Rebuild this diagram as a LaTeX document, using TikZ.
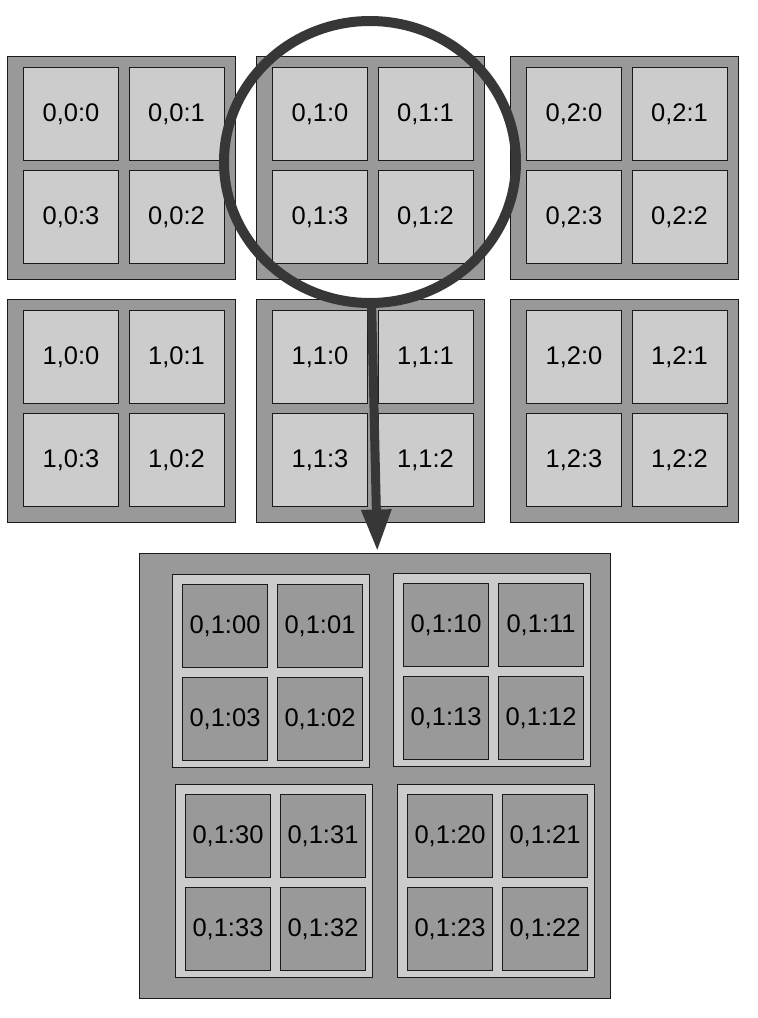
\documentclass[tikz,border=0pt]{standalone}
\usepackage{fontspec}
\setmainfont{Liberation Sans}
\usetikzlibrary{arrows.meta,shapes.geometric}
\definecolor{darkfill}{HTML}{999999}
\definecolor{lightfill}{HTML}{CCCCCC}
\definecolor{ringc}{HTML}{373737}
\definecolor{edgec}{HTML}{1A1A1A}
\tikzset{
  box/.style={draw=edgec, line width=1pt, inner sep=0pt, anchor=north west,
    font=\fontsize{25.5pt}{30pt}\selectfont, text=black},
  topblock/.style={box, fill=darkfill, minimum width=227.5pt, minimum height=223pt},
  topcell/.style={box, fill=lightfill, minimum width=95pt, minimum height=93pt},
  panelbox/.style={box, fill=darkfill, minimum width=471pt, minimum height=445pt},
  subblock/.style={box, fill=lightfill, minimum width=197pt, minimum height=193pt},
  subcell/.style={box, fill=darkfill, minimum width=85pt, minimum height=83pt},
  ring/.style={draw=ringc, line width=10pt, ellipse, inner sep=0pt,
    minimum width=292pt, minimum height=282pt},
  bigarrow/.style={draw=ringc, line width=9pt, -{Triangle[length=42pt,width=28pt]}}
}
\begin{document}
\begin{tikzpicture}[x=1pt,y=-1pt]
\useasboundingbox (0,0) rectangle (758,1018);
% top grid of blocks
\foreach \c/\x in {0/7,1/256,2/510}{
  \foreach \r/\y in {0/56,1/299}{
    \node[topblock] (blk-\r\c) at (\x,\y) {};
    \node[topcell] (cell-\r\c-0) at (\x+16,\y+11) {\r,\c:0};
    \node[topcell] (cell-\r\c-1) at (\x+121.5,\y+11) {\r,\c:1};
    \node[topcell] (cell-\r\c-3) at (\x+16,\y+114) {\r,\c:3};
    \node[topcell] (cell-\r\c-2) at (\x+121.5,\y+114) {\r,\c:2};
  }
}
% enlarged panel
\node[panelbox] (panel) at (139,553) {};
\foreach \s/\x/\y in {0/172/574,1/393/573,3/175/784,2/397/784}{
  \node[subblock] (sub-\s) at (\x,\y) {};
  \node[subcell] (sc-\s0) at (\x+10,\y+10) {0,1:\s0};
  \node[subcell] (sc-\s1) at (\x+105,\y+10) {0,1:\s1};
  \node[subcell] (sc-\s3) at (\x+10,\y+103) {0,1:\s3};
  \node[subcell] (sc-\s2) at (\x+105,\y+103) {0,1:\s2};
}
% magnifier ring and arrow
\node[ring] (lens) at (370,162) {};
\coordinate (astart) at (371.5,300);
\coordinate (atip) at (377.3,551.5);
\draw[bigarrow] (astart) -- (atip);
\end{tikzpicture}
\end{document}
